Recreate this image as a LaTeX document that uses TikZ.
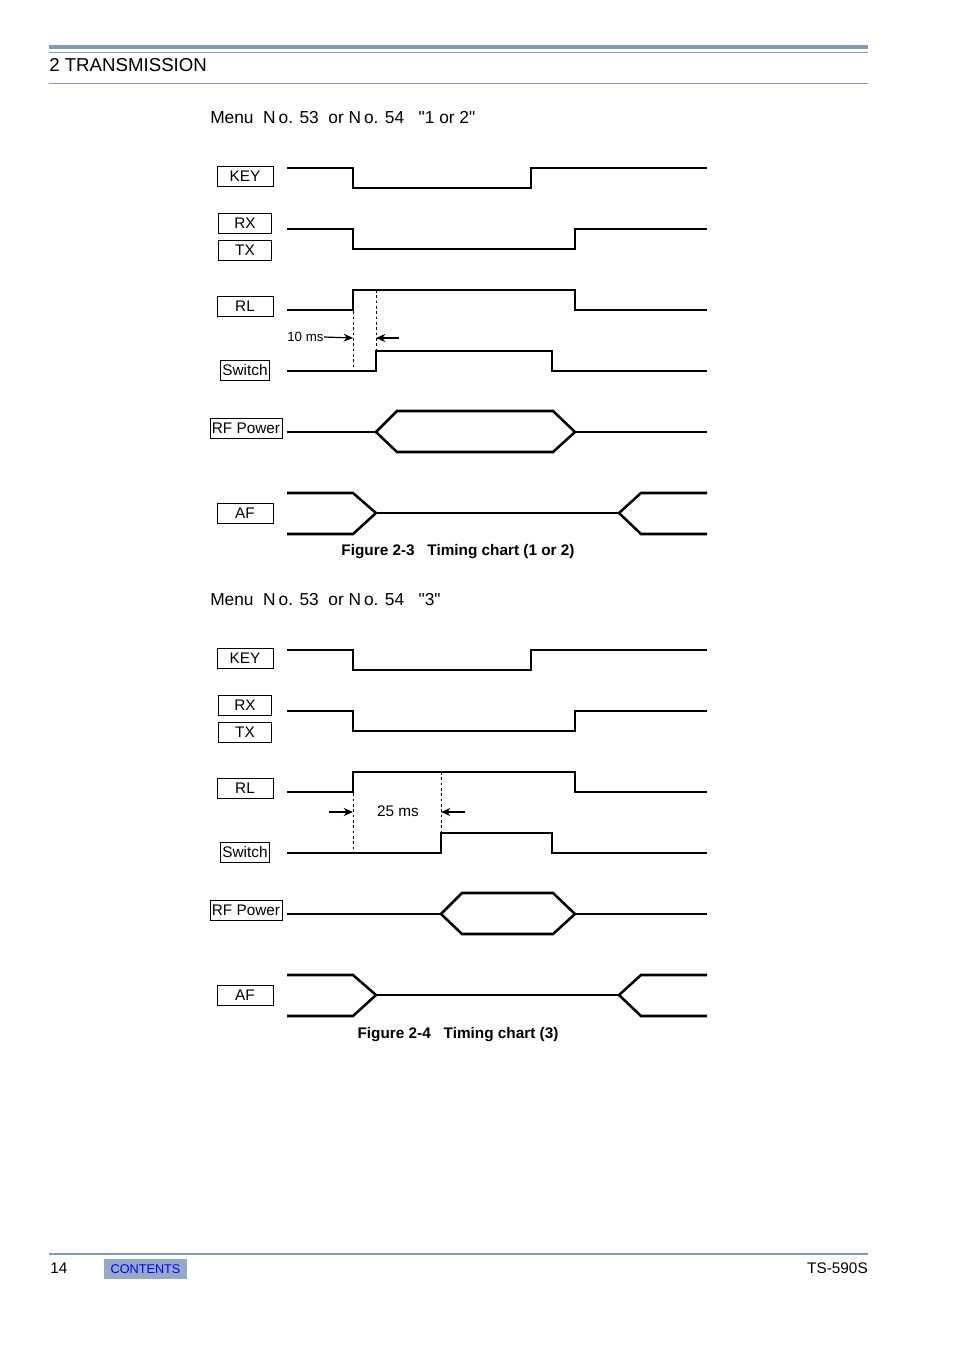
\documentclass[tikz,border=0pt]{standalone}
\usepackage{fontspec}
\setmainfont{Liberation Sans}[Ligatures=TeXOff]
\usetikzlibrary{arrows.meta}
\definecolor{rulebl}{RGB}{130,155,185}
\definecolor{contbg}{RGB}{150,170,200}
\tikzset{
  sig/.style={line width=1.9pt},
  lbl/.style={draw,line width=0.6pt,inner sep=1.5pt,minimum height=15pt,font=\fontsize{11.5}{12}\selectfont},
  dim/.style={-{Stealth[length=7pt,width=6pt]},line width=0.9pt},
  guide/.style={dashed,line width=0.5pt,dash pattern=on 2pt off 2pt},
  menutxt/.style={anchor=west,inner sep=0pt,font=\fontsize{13}{15}\selectfont}
}
% one timing chart: #1 = vertical offset, #2 = x where Switch rises, #3 = chart tag
\newcommand{\timingchart}[3]{%
\begin{scope}[shift={(0,#1)}]
% labels
\node[lbl,minimum width=42pt] (key#3) at (245,176) {KEY};
\node[lbl,minimum width=40pt] (rx#3) at (245,223) {RX};
\node[lbl,minimum width=40pt] (tx#3) at (245,250) {TX};
\node[lbl,minimum width=42pt] (rl#3) at (245,306) {RL};
\node[lbl] (sw#3) at (245,370) {Switch};
\node[lbl] (rf#3) at (246,428) {RF Power};
\node[lbl,minimum width=42pt] (af#3) at (245,513) {AF};
% signals
\draw[sig] (287,168) -- (353,168) -- (353,188) -- (531,188) -- (531,168) -- (707,168);
\draw[sig] (287,229) -- (353,229) -- (353,249) -- (575,249) -- (575,229) -- (707,229);
\draw[sig] (287,310) -- (353,310) -- (353,290) -- (575,290) -- (575,310) -- (707,310);
\draw[sig] (287,371) -- (#2,371) -- (#2,351) -- (552,351) -- (552,371) -- (707,371);
\draw[guide] (353,290) -- (353,371);
\draw[guide] (#2,290) -- (#2,351);
\draw[sig] (287,432) -- (#2,432);
\draw[sig,line join=miter] (#2,432) -- (#2+21,411) -- (553,411) -- (575,432) -- (553,452) -- (#2+21,452) -- cycle;
\draw[sig] (575,432) -- (707,432);
\draw[sig] (287,493) -- (353,493) -- (376,513) -- (353,534) -- (287,534);
\draw[sig] (376,513) -- (619,513);
\draw[sig] (707,493) -- (641,493) -- (619,513) -- (641,534) -- (707,534);
\end{scope}}

\begin{document}
\begin{tikzpicture}[x=0.75pt,y=0.75pt,yscale=-1,xscale=1]
\useasboundingbox (0,0) rectangle (954,1350);

% header
\draw[rulebl,line width=2.4pt] (49,47) -- (868,47);
\draw[rulebl,line width=0.7pt] (49,52.5) -- (868,52.5);
\node[anchor=west,inner sep=0pt,font=\fontsize{14}{16}\selectfont] (title) at (49,65) {2 TRANSMISSION};
\draw[rulebl,line width=0.7pt] (49,83) -- (868,83);

% chart 1
\node[menutxt] (menua) at (210,118) {Menu\ \ N\,o. 53\ \ or N\,o. 54\ \ \ "1\ or\ 2"};
\timingchart{0}{376}{a}
\node[anchor=west,inner sep=0pt,font=\fontsize{10}{11}\selectfont] (tena) at (287,337) {10 ms};
\coordinate (tenl) at (353,338);
\coordinate (tenr) at (376,338);
\draw[dim] (tena.east) -- (tenl);
\draw[dim] ([xshift=17pt]tenr) -- (tenr);
\node[font=\bfseries\fontsize{11.5}{13}\selectfont] (capa) at (458,552) {Figure 2-3\ \ \ Timing chart (1 or 2)};

% chart 2
\node[menutxt] (menub) at (210,600) {Menu\ \ N\,o. 53\ \ or N\,o. 54\ \ \ "3"};
\timingchart{482}{441}{b}
\node[font=\fontsize{11.5}{13}\selectfont] (twb) at (398,811) {25 ms};
\coordinate (twl) at (353,812);
\coordinate (twr) at (441,812);
\draw[dim] ([xshift=-18pt]twl) -- (twl);
\draw[dim] ([xshift=18pt]twr) -- (twr);
\node[font=\bfseries\fontsize{11.5}{13}\selectfont] (capb) at (458,1035) {Figure 2-4\ \ \ Timing chart (3)};

% footer
\draw[rulebl,line width=1.4pt] (49,1254) -- (868,1254);
\node[anchor=west,inner sep=0pt,font=\fontsize{11.5}{13}\selectfont] (page) at (50,1268) {14};
\node[fill=contbg,text=blue,minimum width=62pt,minimum height=15pt,inner sep=0pt,font=\fontsize{9.5}{11}\selectfont] (cont) at (145.5,1269) {CONTENTS};
\node[anchor=east,inner sep=0pt,font=\fontsize{11.5}{13}\selectfont] (model) at (868,1268) {TS-590S};
\end{tikzpicture}
\end{document}
